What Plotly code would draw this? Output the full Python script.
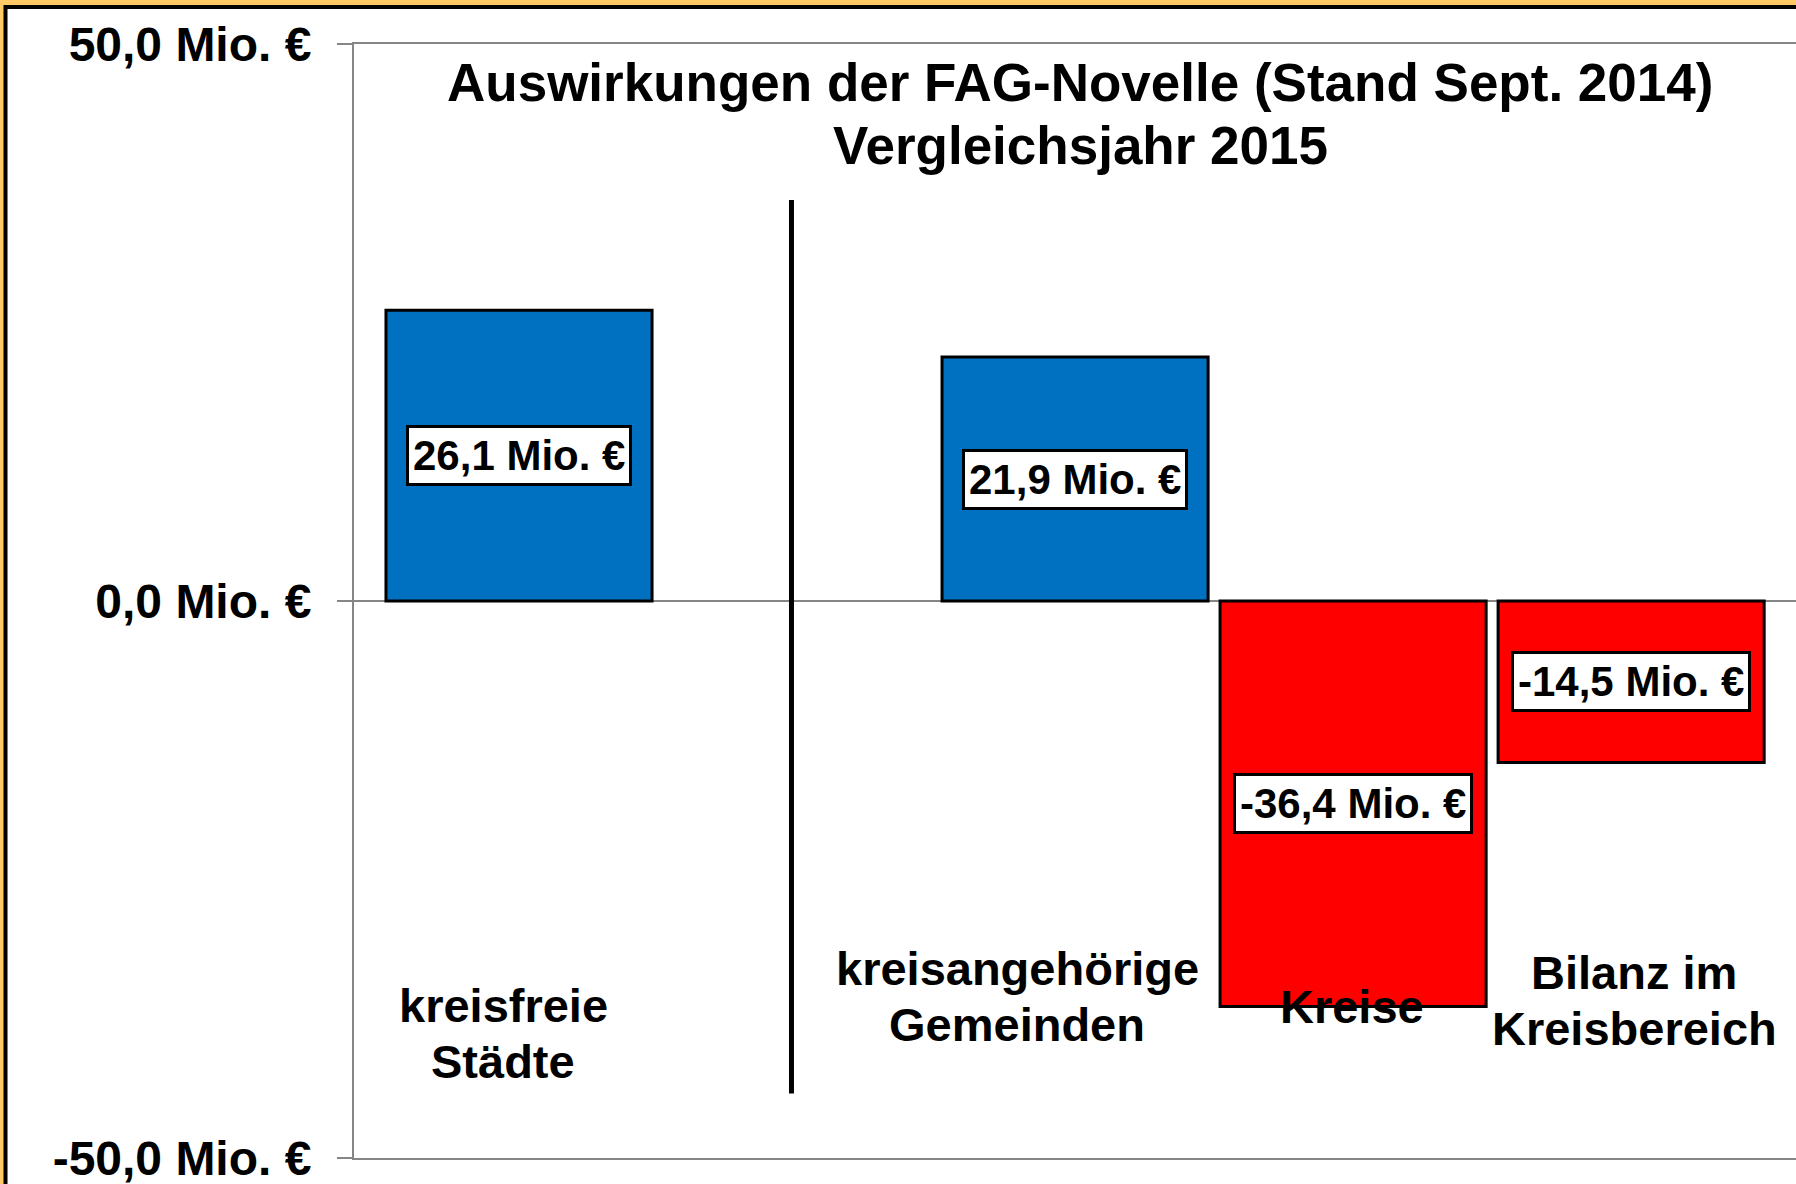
import plotly.graph_objects as go

# DATA===================================================== #
categories = ["kreisfreie Städte", " ", "kreisangehörige Gemeinden", "Kreise", "Bilanz im Kreisbereich"]
category_lines = [["kreisfreie", "Städte"], [], ["kreisangehörige", "Gemeinden"], ["Kreise"], ["Bilanz im", "Kreisbereich"]]
values = [26.1, None, 21.9, -36.4, -14.5]
tick_values = [50, 0, -50]
tick_labels = ["50,0 Mio. €", "0,0 Mio. €", "-50,0 Mio. €"]
title_lines = ["Auswirkungen der FAG-Novelle (Stand Sept. 2014)", "Vergleichsjahr 2015"]

# where the category names sit inside the plot (value axis units / px shift)
name_y = [-38.8, None, -35.5, -36.4, -35.9]
name_shift = [-16, 0, -58, -1, 3]

FONT = "Arial, 'Liberation Sans', sans-serif"
colors = {
    'pos': '#0070C0',
    'neg': '#FF0000',
    'grid': '#868686',
    'frame': '#FFC966',
}

bar_colors = [colors['pos'] if (v or 0) >= 0 else colors['neg'] for v in values]

# GRAPH==================================================== #
fig = go.Figure(data=[go.Bar(
    x=categories, y=values,
    marker=dict(color=bar_colors, line=dict(color='black', width=3)),
    hoverinfo='skip',
)])

annotations = []
for cat, v in zip(categories, values):
    if v is None:
        continue
    label = f"{v:.1f}".replace(".", ",") + " Mio. €"
    annotations.append(dict(
        x=cat, y=v / 2, text=label, showarrow=False,
        font=dict(family=FONT, size=42, color='black', weight='bold'),
        bgcolor='white', bordercolor='black', borderwidth=3, borderpad=4,
    ))

# category names, one annotation per line (tighter line spacing than <br>)
for cat, lines, y, dx in zip(categories, category_lines, name_y, name_shift):
    if y is None:
        continue
    n = len(lines)
    for i, line in enumerate(lines):
        annotations.append(dict(
            x=cat, y=y, xshift=dx, yshift=-(i - (n - 1) / 2) * 56,
            text=line, showarrow=False, yanchor='middle',
            font=dict(family=FONT, size=47, color='black', weight='bold'),
        ))

for i, line in enumerate(title_lines):
    annotations.append(dict(
        xref='paper', yref='paper', x=0.5035, y=0.9376,
        yshift=-(i - 0.5) * 63, text=line,
        showarrow=False, yanchor='middle',
        font=dict(family=FONT, size=53, color='black', weight='bold'),
    ))

shapes = [
    # orange / black frame around the whole chart
    dict(type='rect', xref='paper', yref='paper', layer='below',
         x0=(5.5 - 354) / 1442, x1=(1830 - 354) / 1442,
         y0=(1158 - 1210) / 1114, y1=(1158 - 7) / 1114,
         fillcolor='white', line=dict(color='black', width=4)),
    # separator between kreisfreie Städte and the Kreisbereich
    dict(type='line', xref='x', yref='y', x0=0.98, x1=0.98, y0=36.0, y1=-44.2,
         line=dict(color='black', width=5)),
]

fig.update_layout(
    width=1796, height=1184,
    margin=dict(l=354, r=0, t=44, b=26),
    paper_bgcolor=colors['frame'],
    plot_bgcolor='rgba(0,0,0,0)',
    showlegend=False,
    bargap=0.043,
    annotations=annotations,
    shapes=shapes,
    xaxis=dict(
        range=[-0.5935, 4.593], showticklabels=False, ticks='',
        showgrid=False, zeroline=False,
        showline=True, mirror=True, linecolor=colors['grid'], linewidth=2,
    ),
    yaxis=dict(
        range=[-50, 50], tickvals=tick_values, ticktext=tick_labels,
        tickfont=dict(family=FONT, size=48, color='black', weight='bold'),
        ticks='outside', ticklen=15, tickwidth=2, tickcolor=colors['grid'],
        ticklabelstandoff=16, ticklabeloverflow='allow',
        showgrid=True, gridcolor=colors['grid'], gridwidth=2,
        zeroline=True, zerolinecolor=colors['grid'], zerolinewidth=2,
        showline=True, linecolor=colors['grid'], linewidth=2,
    ),
)

fig.write_html("out.html", config={'displayModeBar': False},
               post_script="document.body.style.margin='0px';")
